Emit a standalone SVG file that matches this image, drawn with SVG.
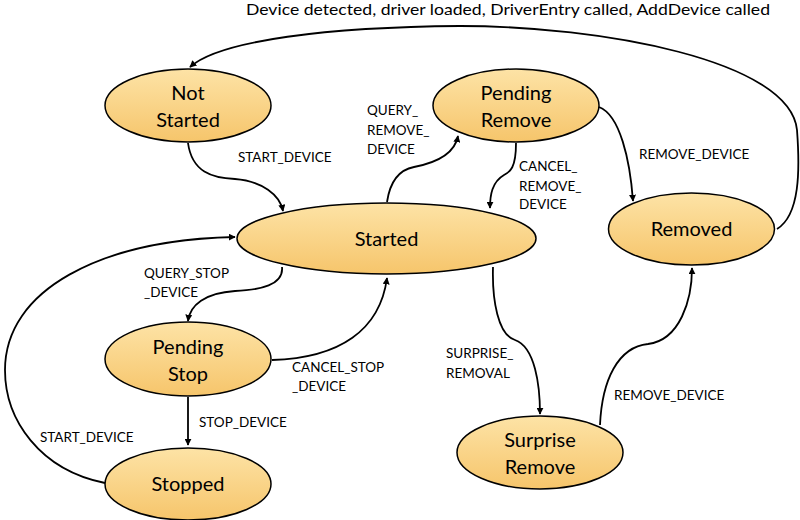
<svg xmlns="http://www.w3.org/2000/svg" width="800" height="520" viewBox="0 0 800 520">
<defs>
<linearGradient id="g" x1="0" y1="0" x2="0" y2="1">
<stop offset="0" stop-color="#fde3a6"/>
<stop offset="1" stop-color="#f6c56b"/>
</linearGradient>
<marker id="ah" viewBox="0 0 10 10" refX="9" refY="5" markerWidth="7" markerHeight="7" orient="auto-start-reverse" markerUnits="userSpaceOnUse">
<path d="M0,0 L10,5 L0,10 z" fill="#000"/>
</marker>
<style>
.n ellipse{fill:url(#g);stroke:#000;stroke-width:1.5}
.n text{font-family:Lato,"Liberation Sans",sans-serif;font-size:20px;fill:#000;text-anchor:middle}
.c path{fill:none;stroke:#000;stroke-width:1.8;marker-end:url(#ah)}
.l{font-family:Lato,"Liberation Sans",sans-serif;font-size:13.5px;fill:#000}
</style>
</defs>
<rect width="800" height="520" fill="#fff"/>
<g class="c">
<path d="M777,229 C800,215 800,170 797,130 C790,60 600,26 460,26 C330,27 220,40 190,67"/>
<path d="M188,143 C192,172 212,178 235,179 C262,181 280,195 283,211"/>
<path d="M387,202 C390,182 398,170 414,167 C440,162 455,152 458,136"/>
<path d="M516,143 C516,168 510,172 504,175 C492,182 490,195 490,208"/>
<path d="M599,107 C620,115 630,160 633,201"/>
<path d="M282,267 C284,285 260,290 235,291 C205,293 190,305 188,321"/>
<path d="M272,360 C340,358 380,330 387,278"/>
<path d="M188,397 L188,445"/>
<path d="M105,483 C40,470 5,420 5,370 C5,290 100,240 235,237"/>
<path d="M493,267 C492,300 498,335 515,340 C535,347 540,385 540,414"/>
<path d="M600,425 C602,380 618,347 648,344 C680,340 692,300 692,268"/>
</g>
<g id="labels">
<text class="l" x="246" y="15" style="font-size:15px" textLength="524" lengthAdjust="spacingAndGlyphs">Device detected, driver loaded, DriverEntry called, AddDevice called</text>
<text class="l" x="238" y="162">START_DEVICE</text>
<text class="l" x="367" y="115">QUERY_</text>
<text class="l" x="367" y="135">REMOVE_</text>
<text class="l" x="367" y="154">DEVICE</text>
<text class="l" x="519" y="171">CANCEL_</text>
<text class="l" x="519" y="191">REMOVE_</text>
<text class="l" x="519" y="209">DEVICE</text>
<text class="l" x="639" y="159">REMOVE_DEVICE</text>
<text class="l" x="144" y="278">QUERY_STOP</text>
<text class="l" x="144" y="297">_DEVICE</text>
<text class="l" x="292" y="372">CANCEL_STOP</text>
<text class="l" x="292" y="391">_DEVICE</text>
<text class="l" x="199" y="427">STOP_DEVICE</text>
<text class="l" x="40" y="442">START_DEVICE</text>
<text class="l" x="446" y="358">SURPRISE_</text>
<text class="l" x="446" y="378">REMOVAL</text>
<text class="l" x="614" y="400">REMOVE_DEVICE</text>
</g>
<g id="not-started" class="n">
<ellipse cx="188" cy="105.5" rx="83" ry="36.5"/>
<text x="188" y="100">Not</text>
<text x="188" y="127">Started</text>
</g>
<g id="pending-remove" class="n">
<ellipse cx="516" cy="105.5" rx="83" ry="36.5"/>
<text x="516" y="100">Pending</text>
<text x="516" y="127">Remove</text>
</g>
<g id="removed" class="n">
<ellipse cx="691.5" cy="229" rx="83" ry="36"/>
<text x="691.5" y="236">Removed</text>
</g>
<g id="started" class="n">
<ellipse cx="386.5" cy="238.5" rx="149.5" ry="35.5"/>
<text x="386.5" y="246">Started</text>
</g>
<g id="pending-stop" class="n">
<ellipse cx="188" cy="359" rx="83" ry="37"/>
<text x="188" y="354">Pending</text>
<text x="188" y="381">Stop</text>
</g>
<g id="stopped" class="n">
<ellipse cx="188" cy="484" rx="83" ry="36"/>
<text x="188" y="491">Stopped</text>
</g>
<g id="surprise-remove" class="n">
<ellipse cx="540" cy="452.5" rx="83" ry="36.5"/>
<text x="540" y="447">Surprise</text>
<text x="540" y="474">Remove</text>
</g>
</svg>
